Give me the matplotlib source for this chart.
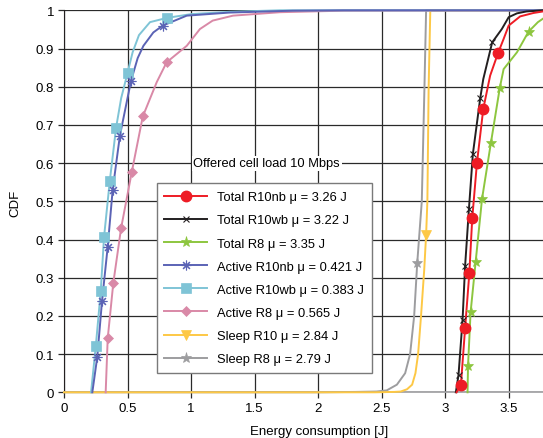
import matplotlib
matplotlib.use('Agg')
import matplotlib.pyplot as plt

plt.rcParams['font.family'] = ['Liberation Sans', 'DejaVu Sans']

# curves (energy [J], CDF)
act_wb_x = [0.213, 0.25, 0.289, 0.315, 0.36, 0.41, 0.45, 0.50, 0.54, 0.59, 0.677, 0.808, 1.0, 1.3, 1.7, 3.77]
act_wb_y = [0, 0.12, 0.264, 0.406, 0.552, 0.693, 0.77, 0.836, 0.89, 0.935, 0.969, 0.98, 0.99, 0.996, 1.0, 1.0]
act_wb_mx = [0.25, 0.289, 0.315, 0.36, 0.41, 0.50, 0.808]
act_wb_my = [0.12, 0.264, 0.406, 0.552, 0.693, 0.836, 0.98]

act_nb_x = [0.223, 0.262, 0.299, 0.344, 0.383, 0.44, 0.528, 0.58, 0.625, 0.703, 0.777, 0.966, 1.3, 1.8, 2.2, 3.77]
act_nb_y = [0, 0.093, 0.238, 0.381, 0.53, 0.672, 0.816, 0.875, 0.907, 0.942, 0.96, 0.986, 0.994, 0.999, 1.0, 1.0]
act_nb_mx = [0.262, 0.299, 0.344, 0.383, 0.44, 0.528, 0.777]
act_nb_my = [0.093, 0.238, 0.381, 0.53, 0.672, 0.816, 0.96]

act_r8_x = [0.328, 0.344, 0.388, 0.449, 0.533, 0.62, 0.73, 0.808, 0.966, 1.07, 1.17, 1.33, 1.7, 2.2, 3.77]
act_r8_y = [0, 0.141, 0.286, 0.429, 0.576, 0.722, 0.812, 0.864, 0.907, 0.951, 0.973, 0.986, 0.995, 0.999, 1.0]
act_r8_mx = [0.344, 0.388, 0.449, 0.533, 0.62, 0.808]
act_r8_my = [0.141, 0.286, 0.429, 0.576, 0.722, 0.864]

tot_nb_x = [3.09, 3.124, 3.157, 3.19, 3.213, 3.25, 3.30, 3.354, 3.415, 3.46, 3.5, 3.59, 3.695, 3.77]
tot_nb_y = [0, 0.02, 0.168, 0.311, 0.455, 0.6, 0.742, 0.829, 0.887, 0.925, 0.96, 0.984, 0.993, 0.997]
tot_nb_mx = [3.124, 3.157, 3.19, 3.213, 3.25, 3.30, 3.415]
tot_nb_my = [0.02, 0.168, 0.311, 0.455, 0.6, 0.742, 0.887]

tot_wb_x = [3.084, 3.105, 3.137, 3.157, 3.187, 3.218, 3.276, 3.30, 3.37, 3.446, 3.5, 3.565, 3.64, 3.77]
tot_wb_y = [0, 0.045, 0.19, 0.331, 0.48, 0.624, 0.77, 0.82, 0.916, 0.951, 0.982, 0.992, 0.997, 1.0]
tot_wb_mx = [3.105, 3.137, 3.157, 3.187, 3.218, 3.276, 3.37]
tot_wb_my = [0.045, 0.19, 0.331, 0.48, 0.624, 0.77, 0.916]

tot_r8_x = [3.176, 3.18, 3.2, 3.24, 3.29, 3.36, 3.43, 3.46, 3.565, 3.656, 3.73, 3.8]
tot_r8_y = [0, 0.07, 0.209, 0.342, 0.506, 0.653, 0.797, 0.846, 0.89, 0.944, 0.969, 0.985]
tot_r8_mx = [3.18, 3.2, 3.24, 3.29, 3.36, 3.43, 3.656]
tot_r8_my = [0.07, 0.209, 0.342, 0.506, 0.653, 0.797, 0.944]

sl_r10_x = [0, 2.45, 2.6, 2.65, 2.7, 2.74, 2.766, 2.787, 2.81, 2.835, 2.85, 2.86, 2.87, 2.883, 3.77]
sl_r10_y = [0, 0, 0.001, 0.002, 0.008, 0.02, 0.05, 0.1, 0.2, 0.32, 0.412, 0.5, 0.8, 1.0, 1.0]
sl_r10_mx = [2.85]
sl_r10_my = [0.412]

sl_r8_x = [0, 2.0, 2.3, 2.46, 2.54, 2.62, 2.685, 2.724, 2.756, 2.78, 2.816, 2.837, 2.85, 3.77]
sl_r8_y = [0, 0, 0.001, 0.002, 0.005, 0.02, 0.05, 0.1, 0.2, 0.338, 0.5, 0.8, 1.0, 1.0]
sl_r8_mx = [2.78]
sl_r8_my = [0.338]

labels = ['Total R10nb \u03bc = 3.26 J', 'Total R10wb \u03bc = 3.22 J', 'Total R8 \u03bc = 3.35 J',
          'Active R10nb \u03bc = 0.421 J', 'Active R10wb \u03bc = 0.383 J', 'Active R8 \u03bc = 0.565 J',
          'Sleep R10 \u03bc = 2.84 J', 'Sleep R8 \u03bc = 2.79 J']

series = [
    (tot_nb_x, tot_nb_y, tot_nb_mx, tot_nb_my, '#ee1c25', 'o', 7.5, 1.0),
    (tot_wb_x, tot_wb_y, tot_wb_mx, tot_wb_my, '#231f20', 'x', 4.5, 0.8),
    (tot_r8_x, tot_r8_y, tot_r8_mx, tot_r8_my, '#8dc63f', '*', 8, 0.5),
    (act_nb_x, act_nb_y, act_nb_mx, act_nb_my, '#5b63b5', (8, 2, 0), 7, 0.8),
    (act_wb_x, act_wb_y, act_wb_mx, act_wb_my, '#7fc4d6', 's', 7.5, 0.5),
    (act_r8_x, act_r8_y, act_r8_mx, act_r8_my, '#d989a7', 'D', 5, 0.5),
    (sl_r10_x, sl_r10_y, sl_r10_mx, sl_r10_my, '#fdc845', 'v', 7, 0.5),
    (sl_r8_x, sl_r8_y, sl_r8_mx, sl_r8_my, '#9d9d9f', '*', 8, 0.5),
]

fig = plt.figure(figsize=(5.43, 4.39), dpi=100)
ax = fig.add_axes([64 / 543, 1 - 393.3 / 439, 479 / 543, 382 / 439])
ax.set_xlim(0, 3.77)
ax.set_ylim(0, 1)

handles = []
# draw in reverse so the totals end on top
for (x, y, mx, my, c, m, ms, mew), lab in reversed(list(zip(series, labels))):
    ax.plot(x, y, color=c, lw=1.4, clip_on=False, zorder=3)
    ax.plot(mx, my, ls='none', marker=m, ms=ms, color=c, mec=c, mew=mew, zorder=4)
for (x, y, mx, my, c, m, ms, mew), lab in zip(series, labels):
    h, = ax.plot([], [], color=c, lw=1.4, marker=m, ms=ms, mec=c, mew=mew, label=lab)
    handles.append(h)

ax.set_xticks([0, 0.5, 1, 1.5, 2, 2.5, 3, 3.5])
ax.set_xticklabels(['0', '0.5', '1', '1.5', '2', '2.5', '3', '3.5'])
ax.set_yticks([i / 10 for i in range(11)])
ax.set_yticklabels(['0'] + ['%.1f' % (i / 10) for i in range(1, 10)] + ['1'])
ax.grid(True, color='#2a2a2a', lw=0.9)
ax.set_axisbelow(True)
ax.tick_params(direction='out', length=4, width=0.9, pad=3, labelsize=9.5, color='#2a2a2a')
for s in ['top', 'right']:
    ax.spines[s].set_visible(False)
ax.spines['left'].set_color('#231f20')
ax.spines['bottom'].set_color('#9d9d9f')
ax.spines['bottom'].set_linewidth(1.2)

ax.set_xlabel('Energy consumption [J]', fontsize=9.5)
ax.xaxis.set_label_coords(0.532, -0.086)
ax.set_ylabel('CDF', fontsize=9.5)
ax.yaxis.set_label_coords(-0.09, 0.498)

leg = ax.legend(handles=handles, loc='lower left', bbox_to_anchor=(0.1935, 0.0505),
                borderaxespad=0, fontsize=9.3, handlelength=3.3, labelspacing=0.86,
                handletextpad=0.8, borderpad=0.6, fancybox=False, framealpha=1,
                edgecolor='#7a7a7a')
leg.get_frame().set_linewidth(1.0)
leg.set_zorder(5)

ax.text(1.596, 0.6, 'Offered cell load 10 Mbps', ha='center', va='center', fontsize=9.3,
        zorder=5, bbox=dict(facecolor='white', edgecolor='none', pad=1))

fig.savefig('out.png', dpi=100)
